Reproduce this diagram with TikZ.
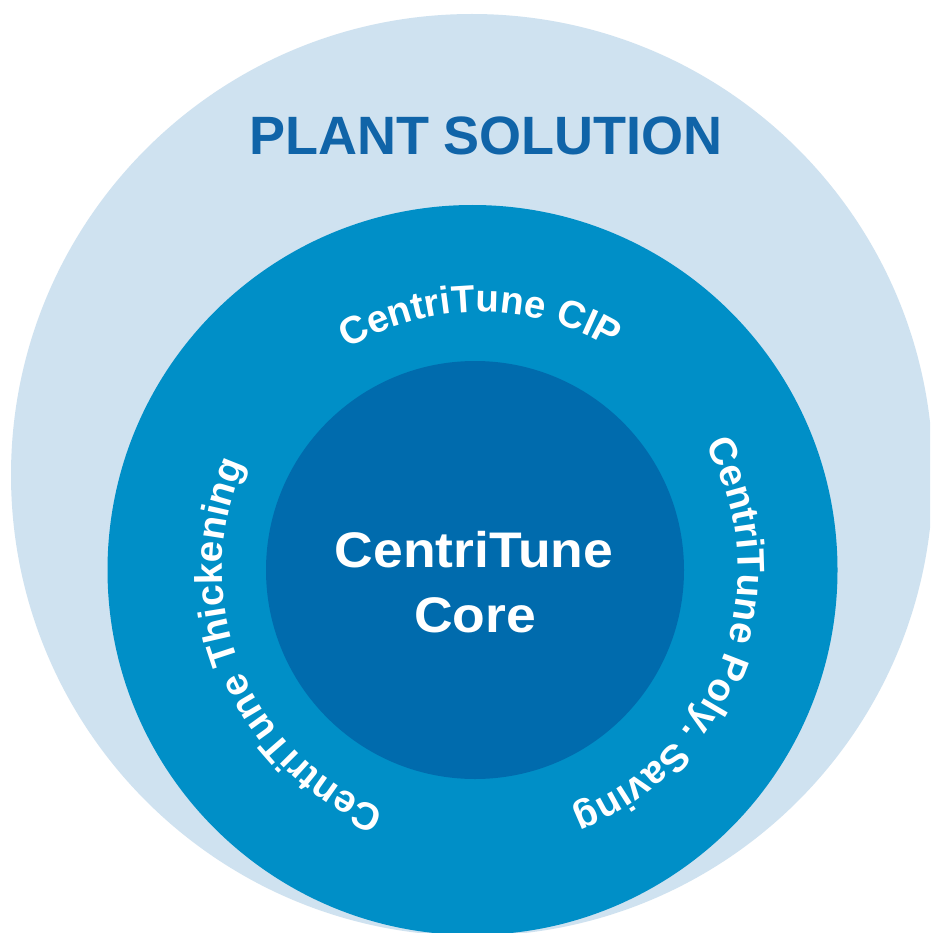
\documentclass[tikz,border=0pt]{standalone}
\usepackage{fontspec}
\setmainfont{Liberation Sans}
\usepackage{graphicx}
\usetikzlibrary{decorations.text}
\definecolor{outerblue}{RGB}{207,226,240}
\definecolor{midblue}{RGB}{0,143,199}
\definecolor{innerblue}{RGB}{0,107,173}
\definecolor{titleblue}{RGB}{16,100,168}
\newcommand\ringfont{\fontsize{38.5}{42}\selectfont\bfseries\color{white}}
\begin{document}
\begin{tikzpicture}[x=1pt,y=1pt,
  ringtext/.style={decorate, decoration={text along path, text align=center, text={#1}}},
  titletext/.style={anchor=base, text=titleblue, font=\fontsize{54}{60}\selectfont\bfseries, inner sep=0pt},
  coretext/.style={anchor=base, text=white, font=\fontsize{50}{60}\selectfont\bfseries, inner sep=0pt}]
\useasboundingbox (0,0) rectangle (930,-933);
\clip (0,0) rectangle (930,-933);
\fill[white] (0,0) rectangle (930,-933);
\coordinate (oc) at (472,-475);
\coordinate (mc) at (472.5,-570);
\coordinate (ic) at (475,-570);
\coordinate (tc) at (480,-570);
\fill[outerblue] (oc) circle[radius=461];
\fill[midblue] (mc) circle[radius=365];
\fill[innerblue] (ic) circle[radius=209];
\node[titletext] (title) at (486,-155) {PLANT SOLUTION};
\node[coretext] (core1) at (474,-567) {\scalebox{1.07}[1]{CentriTune}};
\node[coretext] (core2) at (475,-632) {\scalebox{1.07}[1]{Core}};
\path[ringtext={|\ringfont|CentriTune CIP}] (tc) ++(150:258) arc[start angle=150, end angle=30, radius=258];
\path[ringtext={|\ringfont|CentriTune Poly. Saving}] (tc) ++(40:258) arc[start angle=40, end angle=-80, radius=258];
\path[ringtext={|\ringfont|CentriTune Thickening}] (tc) ++(262:258) arc[start angle=262, end angle=142, radius=258];
\end{tikzpicture}
\end{document}
